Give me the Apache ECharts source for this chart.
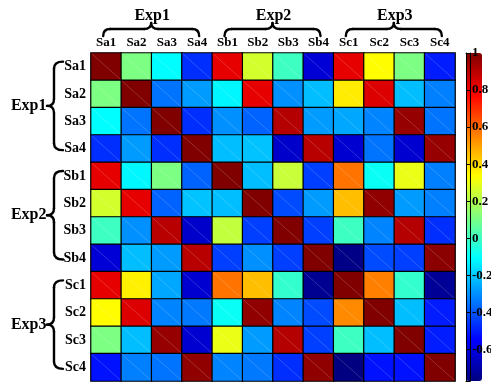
<!DOCTYPE html>
<html>
<head>
<meta charset="utf-8">
<script src="https://cdn.jsdelivr.net/npm/echarts@6/dist/echarts.min.js"></script>
<style>
html,body{margin:0;padding:0;background:#fff;}
#c{width:491px;height:383px;}
</style>
</head>
<body>
<div id="c"></div>
<script>
// ---- data ----
const categories = ['Sa1','Sa2','Sa3','Sa4','Sb1','Sb2','Sb3','Sb4','Sc1','Sc2','Sc3','Sc4'];
const groupNames = ['Exp1','Exp2','Exp3'];
const rowSa1 = [1.00, 0.11, -0.11, -0.47, 0.82, 0.26, 0.00, -0.62, 0.82, 0.34, 0.11, -0.50];
const rowSa2 = [0.11, 1.00, -0.35, -0.28, -0.12, 0.82, -0.30, -0.22, 0.37, 0.84, -0.22, -0.33];
const rowSa3 = [-0.11, -0.35, 1.00, -0.47, -0.30, -0.38, 0.91, -0.28, -0.26, -0.32, 0.96, -0.35];
const rowSa4 = [-0.47, -0.28, -0.47, 1.00, -0.22, -0.21, -0.64, 0.90, -0.63, -0.35, -0.63, 0.96];
const rowSb1 = [0.82, -0.12, 0.11, -0.38, 1.00, -0.22, 0.24, -0.44, 0.58, -0.09, 0.30, -0.33];
const rowSb2 = [0.26, 0.82, -0.38, -0.21, -0.22, 1.00, -0.42, -0.28, 0.45, 0.97, -0.28, -0.33];
const rowSb3 = [0.00, -0.30, 0.90, -0.64, 0.23, -0.44, 1.00, -0.44, 0.00, -0.32, 0.91, -0.47];
const rowSb4 = [-0.62, -0.22, -0.28, 0.90, -0.44, -0.30, -0.44, 1.00, -0.76, -0.42, -0.44, 0.98];
const rowSc1 = [0.82, 0.36, -0.26, -0.63, 0.58, 0.45, -0.02, -0.74, 1.00, 0.56, -0.02, -0.73];
const rowSc2 = [0.34, 0.84, -0.32, -0.34, -0.09, 0.97, -0.32, -0.42, 0.54, 1.00, -0.22, -0.50];
const rowSc3 = [0.11, -0.22, 0.96, -0.63, 0.30, -0.28, 0.91, -0.44, 0.00, -0.22, 1.00, -0.50];
const rowSc4 = [-0.52, -0.33, -0.35, 0.97, -0.32, -0.34, -0.47, 0.97, -0.77, -0.52, -0.52, 1.00];
const colorbarTicks = [1, 0.8, 0.6, 0.4, 0.2, 0, -0.2, -0.4, -0.6];
const valueMin = -0.77;
const valueMax = 1;

// ---- build ----
const rows = [rowSa1,rowSa2,rowSa3,rowSa4,rowSb1,rowSb2,rowSb3,rowSb4,rowSc1,rowSc2,rowSc3,rowSc4];
const heatData = [];
rows.forEach((r, i) => r.forEach((v, j) => heatData.push([j, i, v])));

const jet = ['#000080','#0000ff','#0080ff','#00ffff','#80ff80','#ffff00','#ff8000','#ff0000','#800000'];
const FONT = '"Liberation Serif", "Times New Roman", serif';

const GL = 91, GT = 53, GW = 364, GH = 328;
const CW = GW / 12, CH = GH / 12;
const CBL = 466, CBW = 16;

const braceStyle = { stroke: '#000', lineWidth: 2.4, lineCap: 'round', fill: null };
const graphics = [];
function seg(a, b, c, d) {
  graphics.push({ type: 'line', shape: { x1: a, y1: b, x2: c, y2: d }, style: braceStyle });
}
function curve(a, b, cx, cy, c, d) {
  graphics.push({ type: 'bezierCurve', shape: { x1: a, y1: b, cpx1: cx, cpy1: cy, x2: c, y2: d }, style: braceStyle });
}
groupNames.forEach((name, g) => {
  // top brace
  const x0 = GL + CW * (4 * g + 0.5) - 3;
  const x1 = GL + CW * (4 * g + 3.5) + 2;
  const xm = (x0 + x1) / 2;
  const yE = 36, yL = 29, yT = 23;
  curve(x0, yE, x0, yL, x0 + 7, yL);
  seg(x0 + 7, yL, xm - 7, yL);
  curve(xm - 7, yL, xm, yL, xm, yT);
  curve(xm, yT, xm, yL, xm + 7, yL);
  seg(xm + 7, yL, x1 - 7, yL);
  curve(x1 - 7, yL, x1, yL, x1, yE);
  graphics.push({
    type: 'text', x: xm + 1, y: 16,
    style: { text: name, fill: '#000', font: 'bold 16px ' + FONT, textAlign: 'center', textVerticalAlign: 'middle' }
  });
  // left brace
  const y0 = GT + CH * (4 * g + 0.5) - 5;
  const y1 = GT + CH * (4 * g + 3.5) + 1.5;
  const ym = (y0 + y1) / 2;
  const xE = 63, xL = 54, xT = 47;
  curve(xE, y0, xL, y0, xL, y0 + 7);
  seg(xL, y0 + 7, xL, ym - 7);
  curve(xL, ym - 7, xL, ym, xT, ym);
  curve(xT, ym, xL, ym, xL, ym + 7);
  seg(xL, ym + 7, xL, y1 - 7);
  curve(xL, y1 - 7, xL, y1, xE, y1);
  graphics.push({
    type: 'text', x: 46.5, y: ym,
    style: { text: name, fill: '#000', font: 'bold 16px ' + FONT, textAlign: 'right', textVerticalAlign: 'middle' }
  });
});

const labelStyle = { color: '#000', fontWeight: 'bold', fontFamily: FONT };

const option = {
  animation: false,
  backgroundColor: '#fff',
  grid: [
    { left: GL, top: GT, width: GW, height: GH },
    { left: CBL, top: GT, width: CBW, height: GH, show: false }
  ],
  xAxis: [
    { type: 'category', data: categories, position: 'top', gridIndex: 0,
      axisLine: { show: false }, axisTick: { show: false }, splitLine: { show: false },
      axisLabel: Object.assign({ fontSize: 13, margin: 4, interval: 0 }, labelStyle) },
    { type: 'value', gridIndex: 1, position: 'top', min: 0, max: 1, z: 10,
      axisLine: { show: true, onZero: false, lineStyle: { color: '#000', width: 1 } },
      axisTick: { show: false }, axisLabel: { show: false }, splitLine: { show: false } },
    { type: 'value', gridIndex: 1, position: 'bottom', min: 0, max: 1, z: 10,
      axisLine: { show: true, onZero: false, lineStyle: { color: '#000', width: 1 } },
      axisTick: { show: false }, axisLabel: { show: false }, splitLine: { show: false } }
  ],
  yAxis: [
    { type: 'category', data: categories, inverse: true, gridIndex: 0,
      axisLine: { show: false }, axisTick: { show: false }, splitLine: { show: false },
      axisLabel: Object.assign({ fontSize: 14, margin: 5, interval: 0 }, labelStyle) },
    { type: 'value', gridIndex: 1, position: 'right', min: valueMin, max: valueMax, z: 10,
      axisLine: { show: true, onZero: false, lineStyle: { color: '#000', width: 1 } },
      axisTick: { show: true, inside: true, length: 3, customValues: colorbarTicks, lineStyle: { color: '#000' } },
      axisLabel: Object.assign({ fontSize: 13, margin: 2, customValues: colorbarTicks }, labelStyle),
      splitLine: { show: false } },
    { type: 'value', gridIndex: 1, position: 'left', min: valueMin, max: valueMax, z: 10,
      axisLine: { show: true, onZero: false, lineStyle: { color: '#000', width: 1 } },
      axisTick: { show: true, inside: true, length: 3, customValues: colorbarTicks, lineStyle: { color: '#000' } },
      axisLabel: { show: false }, splitLine: { show: false } }
  ],
  visualMap: {
    type: 'continuous', min: valueMin, max: valueMax, dimension: 2, seriesIndex: 0,
    calculable: false, showLabel: false,
    orient: 'vertical', left: CBL, top: GT, itemWidth: CBW, itemHeight: GH,
    padding: 0, z: 1, hoverLink: false,
    inRange: { color: jet }
  },
  series: [{
    type: 'heatmap', xAxisIndex: 0, yAxisIndex: 0, data: heatData,
    itemStyle: { borderColor: '#000', borderWidth: 1.2 },
    emphasis: { disabled: true }
  }, {
    type: 'custom', xAxisIndex: 0, yAxisIndex: 0, data: heatData, silent: true, z: 3,
    renderItem: function (params, api) {
      const c = api.coord([api.value(0), api.value(1)]);
      const s = api.size([1, 1]);
      return {
        type: 'line',
        shape: { x1: c[0] - s[0] / 2 + 1, y1: c[1] - s[1] / 2 + 1, x2: c[0] + s[0] / 2 - 1, y2: c[1] + s[1] / 2 - 1 },
        style: { stroke: 'rgba(255,255,255,0.3)', lineWidth: 0.6 }
      };
    }
  }],
  graphic: graphics
};

const chart = echarts.init(document.getElementById('c'), null, { renderer: 'canvas' });
chart.setOption(option);
</script>
</body>
</html>
